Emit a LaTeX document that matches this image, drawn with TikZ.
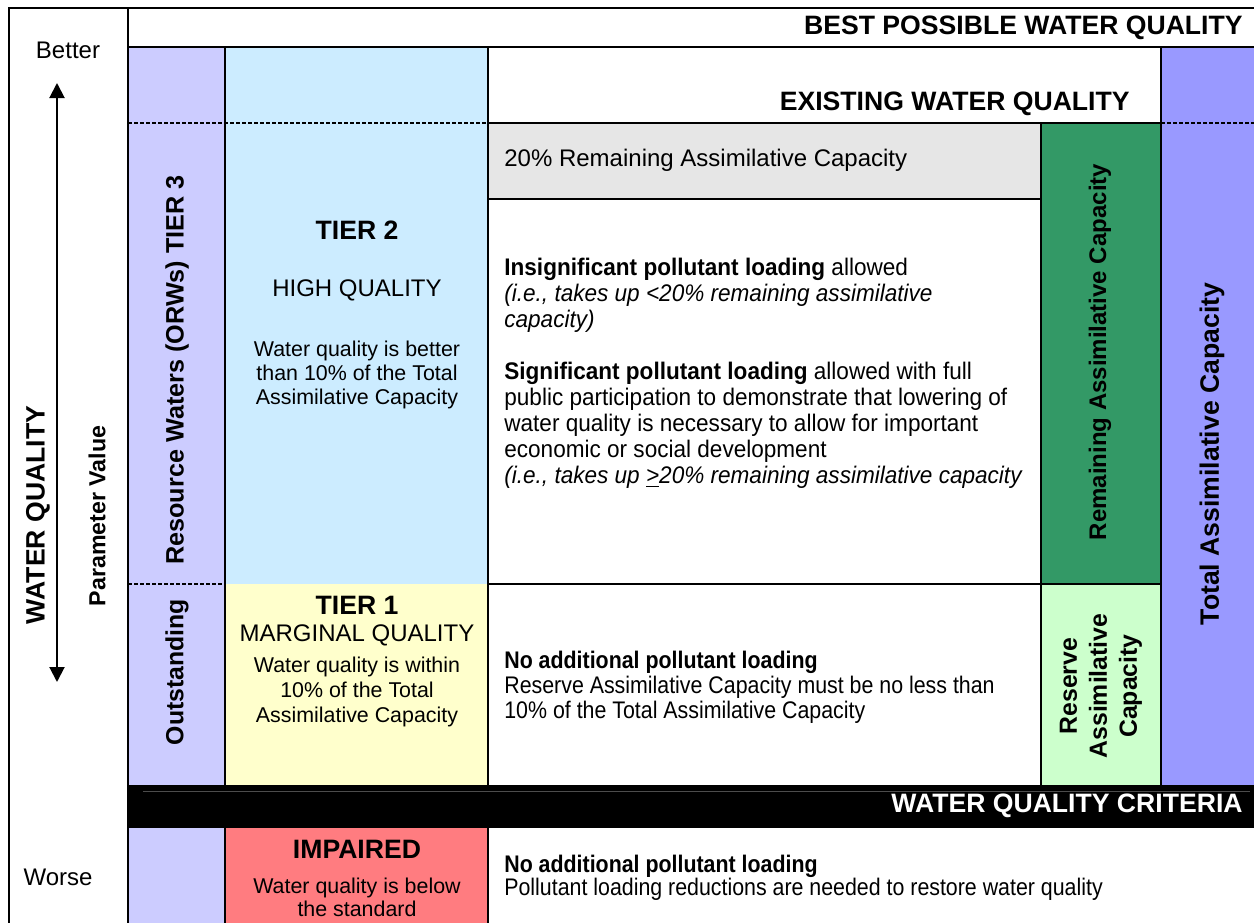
\documentclass[tikz,border=0pt]{standalone}
\usepackage{fontspec}
\setmainfont{Liberation Sans}
\usepackage{tikz}
\usetikzlibrary{arrows.meta}
\definecolor{orwA}{HTML}{CCCCFF}
\definecolor{tierB}{HTML}{CCECFF}
\definecolor{tierA}{HTML}{FFFFCC}
\definecolor{impaired}{HTML}{FF7C80}
\definecolor{remainG}{HTML}{E6E6E6}
\definecolor{remainA}{HTML}{339966}
\definecolor{reserveA}{HTML}{CCFFCC}
\definecolor{totalA}{HTML}{9999FF}

\begin{document}
\begin{tikzpicture}[x=0.5pt, y=-0.5pt,
    frame/.style={line width=1pt},
    divider/.style={line width=0.8pt, dash pattern=on 2pt off 1pt},
    headline/.style={font=\bfseries\fontsize{13.3}{15}\selectfont, inner sep=0},
    tiername/.style={font=\fontsize{12}{14}\selectfont, inner sep=0},
    body/.style={font=\fontsize{12}{13}\selectfont, inner sep=0, align=left},
    note/.style={font=\fontsize{10.7}{12}\selectfont, inner sep=0, align=center},
    side/.style={font=\bfseries\fontsize{12.4}{15}\selectfont, inner sep=0, rotate=90, align=center},
    >={Triangle[length=7.5pt, width=7.5pt]}]
      \useasboundingbox (0,0) rectangle (1254,922);
      \clip (0,0) rectangle (1254,922);
      % Coloured bands
      \fill[orwA] (128,47) rectangle (225,785);
      \fill[orwA] (128,828) rectangle (225,930);
      \fill[tierB] (225,47) rectangle (488,584);
      \fill[tierA] (225,584) rectangle (488,785);
      \fill[impaired] (225,828) rectangle (488,930);
      \fill[remainG] (488,123) rectangle (1041,199);
      \fill[remainA] (1041,123) rectangle (1161,584);
      \fill[reserveA] (1041,584) rectangle (1161,785);
      \fill[totalA] (1161,47) rectangle (1260,785);
      % Criteria bar
      \fill[black] (128,785) rectangle (1260,828);
      \draw[black!70!white, line width=0.4pt] (143,791) -- (1250,791);
      % Frame and grid lines
      \draw[frame] (9,930) -- (9,8) -- (1260,8);
      \draw[frame] (128,8) -- (128,930);
      \draw[frame] (128,47) -- (1260,47);
      \draw[frame] (225,47) -- (225,785) (225,828) -- (225,930);
      \draw[frame] (488,47) -- (488,785) (488,828) -- (488,930);
      \draw[frame] (488,123) -- (1161,123);
      \draw[frame] (488,199) -- (1041,199);
      \draw[frame] (488,584) -- (1161,584);
      \draw[frame] (1041,123) -- (1041,785);
      \draw[frame] (1161,47) -- (1161,785);
      % Dashed boundaries
      \draw[divider] (128,123) -- (488,123);
      \draw[divider] (1161,123) -- (1260,123);
      \draw[divider] (128,584) -- (225,584);
      % Quality scale on the left
      \node[font=\fontsize{12}{14}\selectfont, inner sep=0] (better) at (68,50) {Better};
      \node[font=\fontsize{12}{14}\selectfont, inner sep=0] (worse) at (58,877) {Worse};
      \coordinate (scaletop) at (57,83);
      \coordinate (scalebot) at (57,682);
      \draw[<->, line width=1pt] (scaletop) -- (scalebot);
      \node[headline, rotate=90] (wq) at (38,515) {WATER QUALITY};
      \node[side, font=\bfseries\fontsize{11.6}{14}\selectfont] (param) at (97,516) {Parameter Value};
      % Headings
      \node[headline, anchor=east] (best) at (1243,28) {BEST POSSIBLE WATER QUALITY};
      \node[headline, anchor=east] (existing) at (1130,104) {EXISTING WATER QUALITY};
      \node[headline, anchor=east, white] (criteria) at (1243,806) {WATER QUALITY CRITERIA};
      % Tier 3 column
      \node[side, font=\bfseries\fontsize{12.6}{15}\selectfont] (orw) at (177,370) {Resource Waters (ORWs) TIER 3};
      \node[side] (outst) at (177,672) {Outstanding};
      % Tier 2
      \node[headline] (tier2) at (357,230) {TIER 2};
      \node[tiername] (high) at (357,290) {HIGH QUALITY};
      \node[note] (high text) at (357,375) {Water quality is better\\than 10\% of the Total\\Assimilative Capacity};
      % Tier 1
      \node[headline] (tier1) at (357,605) {TIER 1};
      \node[tiername] (marginal) at (357,635) {MARGINAL QUALITY};
      \node[note, font=\fontsize{10.7}{12.5}\selectfont] (marginal text) at (357,692) {Water quality is within\\10\% of the Total\\Assimilative Capacity};
      % Impaired
      \node[headline] (imp) at (357,849) {IMPAIRED};
      \node[note, font=\fontsize{10.7}{11.5}\selectfont] (imp text) at (357,897) {Water quality is below\\the standard};
      % Loading rules
      \node[body, anchor=west] (remain20) at (504,160) {20\% Remaining Assimilative Capacity};
      \node[body, anchor=west, xscale=0.94] (tier2 rule) at (504,373) {%
        \textbf{Insignificant pollutant loading} allowed\\
        \textit{(i.e., takes up <20\% remaining assimilative}\\
        \textit{capacity)}\\[13pt]
        \textbf{Significant pollutant loading} allowed with full\\
        public participation to demonstrate that lowering of\\
        water quality is necessary to allow for important\\
        economic or social development\\
        \textit{(i.e., takes up \underline{>}20\% remaining assimilative capacity}};
      \node[body, anchor=west, xscale=0.89, font=\fontsize{12}{12.5}\selectfont] (tier1 rule) at (504,687) {%
        \textbf{No additional pollutant loading}\\
        Reserve Assimilative Capacity must be no less than\\
        10\% of the Total Assimilative Capacity};
      \node[body, anchor=west, xscale=0.89, font=\fontsize{12}{11.5}\selectfont] (imp rule) at (504,878) {%
        \textbf{No additional pollutant loading}\\
        Pollutant loading reductions are needed to restore water quality};
      % Capacity columns
      \node[side, font=\bfseries\fontsize{12}{14}\selectfont] (remaining) at (1100,352) {Remaining Assimilative Capacity};
      \node[side] (reserve) at (1101,686) {Reserve\\Assimilative\\Capacity};
      \node[headline, rotate=90] (total) at (1212,454) {Total Assimilative Capacity};
    \end{tikzpicture}
\end{document}
